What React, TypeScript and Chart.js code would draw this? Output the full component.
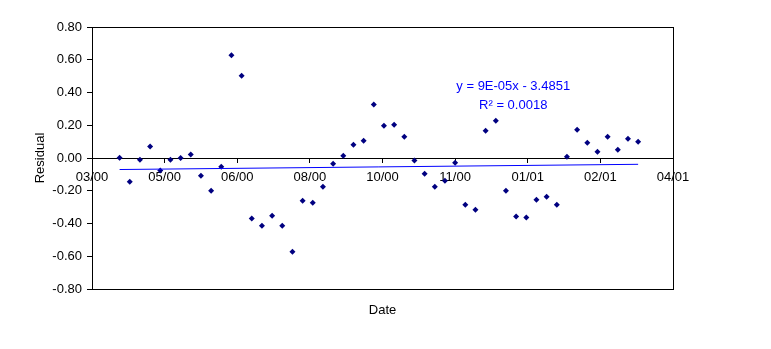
import React, { useEffect, useRef } from "react";
import { Chart, registerables } from "chart.js";

Chart.register(...registerables);

// Axis origin (first tick) and the tick interval in days
const AXIS_START = "2000-03-15";
const TICK_STEP_DAYS = 50;
const X_TICK_LABELS = ["03/00", "05/00", "06/00", "08/00", "10/00", "11/00", "01/01", "02/01", "04/01"];

const DATES = [
  "2000-04-03", "2000-04-10", "2000-04-17", "2000-04-24",
  "2000-05-01", "2000-05-08", "2000-05-15", "2000-05-22", "2000-05-29",
  "2000-06-05", "2000-06-12", "2000-06-19", "2000-06-26",
  "2000-07-03", "2000-07-10", "2000-07-17", "2000-07-24", "2000-07-31",
  "2000-08-07", "2000-08-14", "2000-08-21", "2000-08-28",
  "2000-09-04", "2000-09-11", "2000-09-18", "2000-09-25",
  "2000-10-02", "2000-10-09", "2000-10-16", "2000-10-23", "2000-10-30",
  "2000-11-06", "2000-11-13", "2000-11-20", "2000-11-27",
  "2000-12-04", "2000-12-11", "2000-12-18", "2000-12-25",
  "2001-01-01", "2001-01-08", "2001-01-15", "2001-01-22", "2001-01-29",
  "2001-02-05", "2001-02-12", "2001-02-19", "2001-02-26",
  "2001-03-05", "2001-03-12", "2001-03-19", "2001-03-26",
];

const RESIDUALS = [
  0.002, -0.145, -0.01, 0.07,
  -0.076, -0.01, 0.0, 0.022, -0.108,
  -0.2, -0.053, 0.627, 0.503,
  -0.369, -0.413, -0.352, -0.413, -0.572,
  -0.261, -0.273, -0.175, -0.035,
  0.014, 0.081, 0.106, 0.326,
  0.197, 0.203, 0.13, -0.016, -0.096,
  -0.175, -0.139, -0.029, -0.285,
  -0.316, 0.167, 0.228, -0.2,
  -0.358, -0.364, -0.255, -0.236, -0.285,
  0.008, 0.173, 0.093, 0.038,
  0.13, 0.051, 0.118, 0.1,
];

const Y_MIN = -0.8;
const Y_MAX = 0.8;
const Y_STEP = 0.2;

const EQUATION_TEXT = "y = 9E-05x - 3.4851";
const R_SQUARED_TEXT = "R\u00B2 = 0.0018";
const X_TITLE = "Date";
const Y_TITLE = "Residual";

const FONT_FAMILY = "'Liberation Sans', Arial, sans-serif";
const MARKER_COLOR = "#000080";
const TREND_COLOR = "#0000FF";

const DAY_MS = 86400000;
const dayOffset = (s: string) =>
  (Date.parse(s + "T00:00:00Z") - Date.parse(AXIS_START + "T00:00:00Z")) / DAY_MS;

function linearFit(xs: number[], ys: number[]) {
  const n = xs.length;
  const mx = xs.reduce((a, b) => a + b, 0) / n;
  const my = ys.reduce((a, b) => a + b, 0) / n;
  let sxy = 0;
  let sxx = 0;
  for (let i = 0; i < n; i++) {
    sxy += (xs[i] - mx) * (ys[i] - my);
    sxx += (xs[i] - mx) * (xs[i] - mx);
  }
  const slope = sxy / sxx;
  return { slope, intercept: my - slope * mx };
}

const framePlugin = {
  id: "excelFrame",
  beforeDatasetsDraw(chart: any) {
    const { ctx, chartArea } = chart;
    const { left, top, right, bottom } = chartArea;
    ctx.save();
    ctx.strokeStyle = "#000";
    ctx.lineWidth = 1;
    ctx.strokeRect(left + 0.5, top + 0.5, right - left, bottom - top);
    ctx.restore();
  },
  afterDatasetsDraw(chart: any) {
    const { ctx } = chart;
    const x = chart.scales.x.getPixelForValue(290);
    const y = chart.scales.y.getPixelForValue(0.415);
    ctx.save();
    ctx.font = `13px ${FONT_FAMILY}`;
    ctx.fillStyle = TREND_COLOR;
    ctx.textAlign = "center";
    ctx.textBaseline = "alphabetic";
    ctx.fillText(EQUATION_TEXT, x, y);
    ctx.fillText(R_SQUARED_TEXT, x, y + 19);
    ctx.restore();
  },
};

export default function App() {
  const canvasRef = useRef<HTMLCanvasElement | null>(null);

  useEffect(() => {
    const canvas = canvasRef.current;
    if (!canvas) return;
    const xs = DATES.map(dayOffset);
    const points = xs.map((x, i) => ({ x, y: RESIDUALS[i] }));
    const fit = linearFit(xs, RESIDUALS);
    const x0 = xs[0];
    const x1 = xs[xs.length - 1];
    const trend = [
      { x: x0, y: fit.slope * x0 + fit.intercept },
      { x: x1, y: fit.slope * x1 + fit.intercept },
    ];
    const font = { family: FONT_FAMILY, size: 13 };
    const xMax = TICK_STEP_DAYS * (X_TICK_LABELS.length - 1);

    const chart = new Chart(canvas, {
      type: "scatter",
      data: {
        datasets: [
          {
            type: "line",
            label: "Trend",
            data: trend,
            borderColor: TREND_COLOR,
            borderWidth: 1,
            pointRadius: 0,
            fill: false,
          },
          {
            type: "scatter",
            label: "Residual",
            data: points,
            pointStyle: "rectRot",
            pointRadius: 3,
            pointBorderWidth: 0,
            backgroundColor: MARKER_COLOR,
            borderColor: MARKER_COLOR,
          },
        ],
      },
      plugins: [framePlugin],
      options: {
        responsive: false,
        animation: false,
        layout: { padding: { left: 21, top: 19, right: 90, bottom: 19 } },
        plugins: {
          legend: { display: false },
          tooltip: { enabled: false },
        },
        scales: {
          x: {
            type: "linear",
            position: { y: 0 },
            min: 0,
            max: xMax,
            grid: { drawOnChartArea: false, drawTicks: true, tickLength: 4, color: "#000" },
            border: { display: true, color: "#000", width: 1 },
            ticks: {
              stepSize: TICK_STEP_DAYS,
              autoSkip: false,
              maxRotation: 0,
              padding: 8,
              color: "#000",
              font,
              callback: (v: any) => X_TICK_LABELS[Math.round(Number(v) / TICK_STEP_DAYS)] ?? "",
            },
          },
          xTitle: {
            type: "linear",
            axis: "x",
            position: "bottom",
            min: 0,
            max: 1,
            grid: { display: false, drawTicks: false },
            border: { display: false },
            ticks: { display: false },
            title: { display: true, text: X_TITLE, color: "#000", font },
            afterFit: (scale: any) => {
              scale.height = 33;
            },
          },
          y: {
            type: "linear",
            position: "left",
            min: Y_MIN,
            max: Y_MAX,
            grid: { drawOnChartArea: false, drawTicks: true, tickLength: 5, color: "#000" },
            border: { display: true, color: "#000", width: 1 },
            ticks: {
              stepSize: Y_STEP,
              padding: 5,
              color: "#000",
              font,
              callback: (v: any) => {
                const n = Math.abs(Number(v)) < 1e-9 ? 0 : Number(v);
                return n.toFixed(2);
              },
            },
            title: { display: true, text: Y_TITLE, color: "#000", font },
            afterFit: (scale: any) => {
              scale.width = 63;
            },
          },
        },
      },
    } as any);

    return () => chart.destroy();
  }, []);

  return (
    <div style={{ width: 755, height: 333 }}>
      <canvas ref={canvasRef} width={755} height={333} style={{ display: "block" }} />
    </div>
  );
}
